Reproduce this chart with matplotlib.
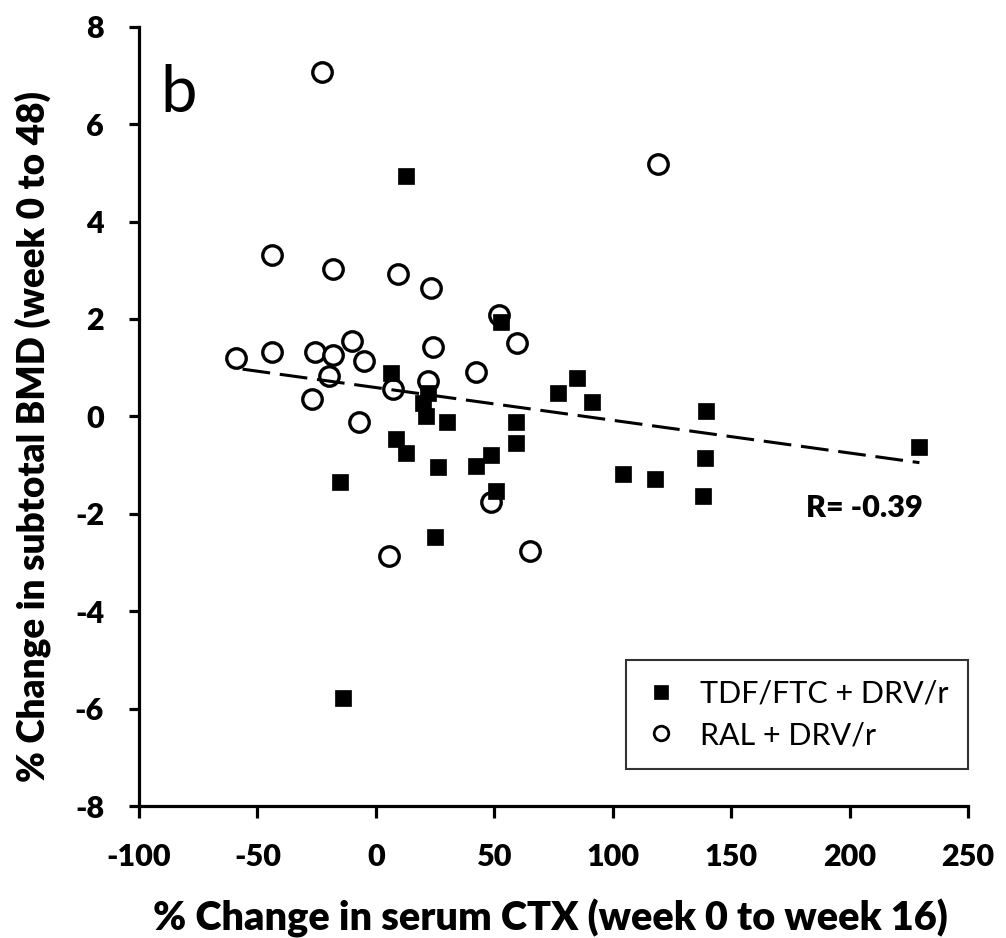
import matplotlib
matplotlib.use("Agg")
import matplotlib.pyplot as plt
from matplotlib.lines import Line2D

plt.rcParams["font.family"] = ["Lato", "DejaVu Sans"]

# TDF/FTC + DRV/r (filled squares)
tdf_x = [12.9, 6.3, 52.8, 21.8, 19.7, 21.1, 30.0, 8.7, 12.9, -15.1, 26.2, 42.2, 48.6,
         59.1, 59.1, 50.7, 25.1, 76.7, 84.8, 91.2, 104.5, 118.0, 139.4, 139.0, 138.0,
         229.2, -13.8]
tdf_y = [4.94, 0.90, 1.93, 0.49, 0.27, 0.01, -0.12, -0.47, -0.76, -1.34, -1.03, -1.02, -0.80,
         -0.12, -0.55, -1.53, -2.47, 0.49, 0.78, 0.30, -1.18, -1.28, 0.12, -0.85, -1.63,
         -0.62, -5.79]

# RAL + DRV/r (open circles)
ral_x = [-22.8, -43.7, -17.9, 9.3, 23.4, 52.1, 59.4, -59.1, -43.9, -25.8, -18.0, -10.1,
         -5.2, 24.2, 42.2, -20.0, 7.4, 22.1, -27.0, -7.1, 48.6, 5.6, 65.2, 119.1]
ral_y = [7.08, 3.32, 3.03, 2.92, 2.63, 2.08, 1.50, 1.19, 1.33, 1.33, 1.26, 1.55,
         1.13, 1.43, 0.92, 0.82, 0.56, 0.73, 0.35, -0.11, -1.76, -2.86, -2.76, 5.18]

# regression line end points (both groups pooled)
trend_x = [-56.3, 229.5]
trend_y = [0.97, -0.95]

x_ticks = [-100, -50, 0, 50, 100, 150, 200, 250]
y_ticks = [-8, -6, -4, -2, 0, 2, 4, 6, 8]

BOLD = "heavy"

fig = plt.figure(figsize=(10.06, 9.38), dpi=100)
ax = fig.add_axes([0.1382, 0.1407, 0.8240, 0.8308])

ax.plot(ral_x, ral_y, linestyle="none", marker="o", markersize=14,
        markerfacecolor="white", markeredgecolor="black", markeredgewidth=2.4, zorder=3)
ax.plot(trend_x, trend_y, color="black", linewidth=2.2,
        linestyle=(0, (9.1, 3.2)), zorder=4)
ax.plot(tdf_x, tdf_y, linestyle="none", marker="s", markersize=11.5,
        markerfacecolor="black", markeredgecolor="black", markeredgewidth=0.5, zorder=5)

ax.set_xlim(-100, 250)
ax.set_ylim(-8, 8)
ax.set_xticks(x_ticks)
ax.set_yticks(y_ticks)
ax.set_xticklabels([str(v) for v in x_ticks], fontsize=22, fontweight=BOLD)
ax.set_yticklabels([str(v) for v in y_ticks], fontsize=22, fontweight=BOLD)

for side in ["top", "right"]:
    ax.spines[side].set_visible(False)
for side in ["left", "bottom"]:
    ax.spines[side].set_linewidth(2.3)

ax.tick_params(axis="x", direction="out", length=8.6, width=2.3, pad=18)
ax.tick_params(axis="y", direction="out", length=7.2, width=2.3, pad=18)

fig.text(0.5467, 0.0085, "% Change in serum CTX (week 0 to week 16)",
         ha="center", va="baseline", fontsize=28.5, fontweight=BOLD)
fig.text(0.0447, 0.535, "% Change in subtotal BMD (week 0 to 48)",
         ha="center", va="baseline", rotation=90, rotation_mode="anchor",
         fontsize=26.6, fontweight=BOLD)

ax.text(-90.8, 6.25, "b", fontsize=47, ha="left", va="baseline")
ax.text(181.7, -2.06, "R= -0.39", fontsize=22, fontweight=BOLD,
        ha="left", va="baseline")

handles = [
    Line2D([], [], linestyle="none", marker="s", markersize=9.5,
           markerfacecolor="black", markeredgecolor="black", markeredgewidth=0.5),
    Line2D([], [], linestyle="none", marker="o", markersize=10.5,
           markerfacecolor="white", markeredgecolor="black", markeredgewidth=2.0),
]
leg = ax.legend(handles, ["TDF/FTC + DRV/r", "RAL + DRV/r"],
                loc="lower right", bbox_to_anchor=(1.0, 0.0475),
                fontsize=22, frameon=True, fancybox=False, borderaxespad=0,
                handlelength=1.0, handletextpad=0.75, borderpad=0.65,
                labelspacing=0.45)
leg.get_frame().set_edgecolor("black")
leg.get_frame().set_linewidth(1.5)

fig.savefig("out.png", dpi=100)
